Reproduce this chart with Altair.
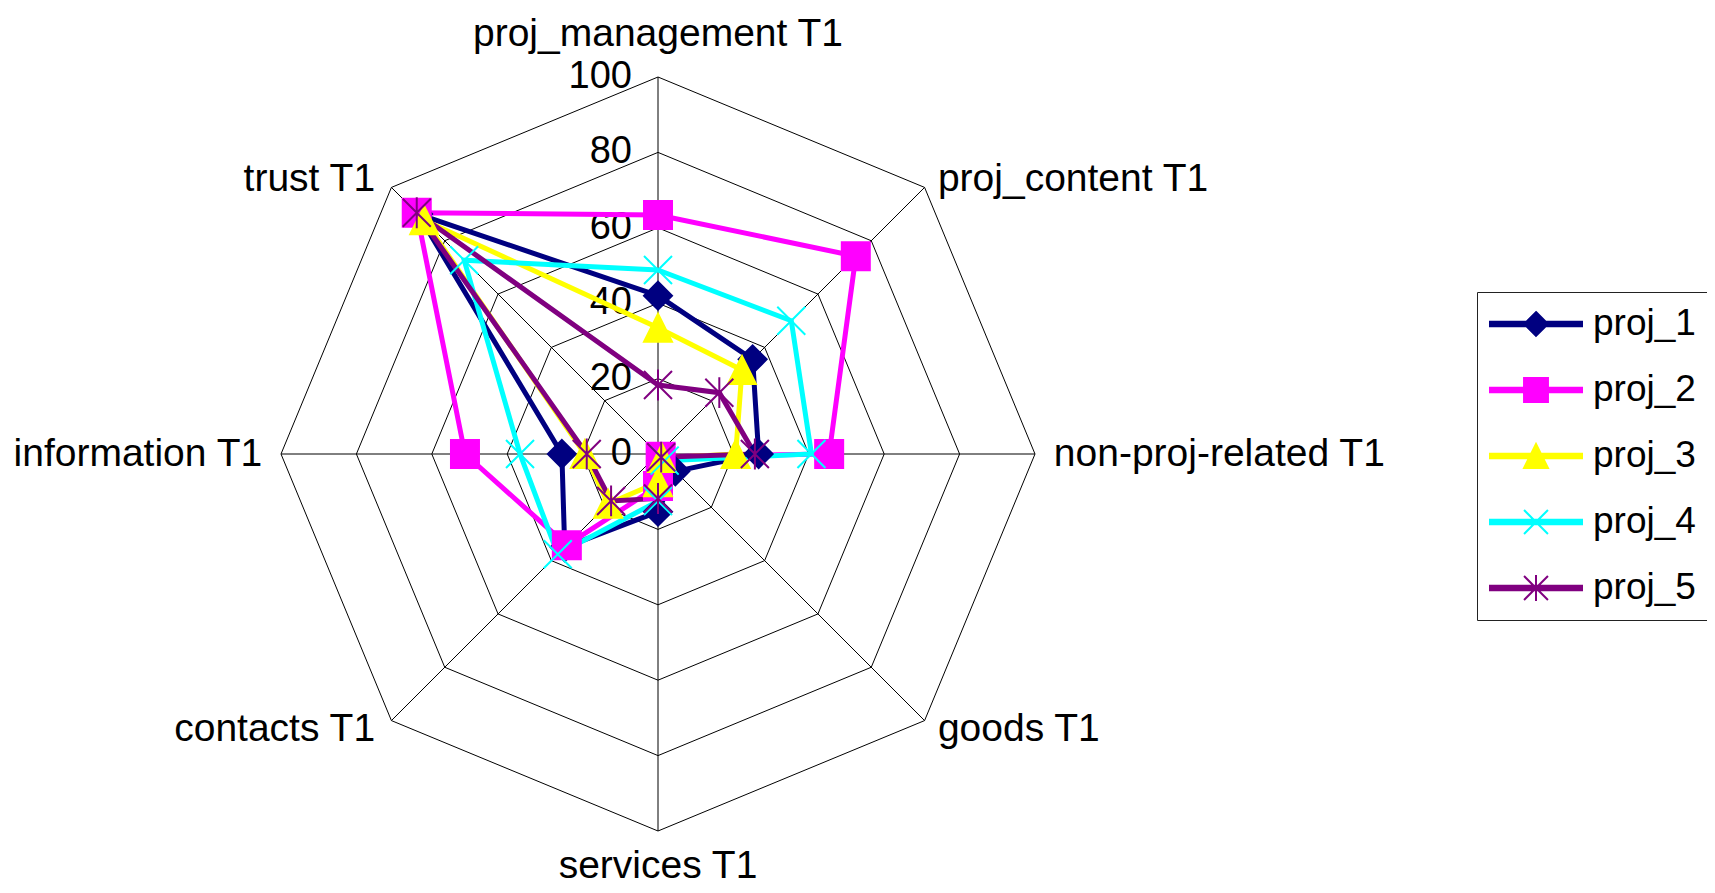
import altair as alt
import pandas as pd

# ---------------- data ----------------
axes = ["proj_management T1", "proj_content T1", "non-proj-related T1", "goods T1",
        "services T1", "contacts T1", "information T1", "trust T1"]
series_names = ["proj_1", "proj_2", "proj_3", "proj_4", "proj_5"]
proj_1 = [42.0, 35.5, 26.7, 6.5, 15.3, 35.0, 25.5, 90.0]
proj_2 = [63.4, 74.2, 45.4, 1.0, 8.5, 34.2, 51.2, 90.5]
proj_3 = [33.5, 31.5, 20.6, 1.5, 7.5, 18.7, 19.4, 87.7]
proj_4 = [48.8, 50.0, 40.7, 2.5, 12.5, 37.6, 36.6, 72.7]
proj_5 = [18.3, 23.0, 25.7, 1.2, 11.8, 17.6, 18.9, 90.5]
ring_levels = [20, 40, 60, 80, 100]
tick_values = [0, 20, 40, 60, 80, 100]

# ---------------- styles ----------------
colors = ["#000080", "#FF00FF", "#FFFF00", "#00FFFF", "#800080"]
marker_paths = [
    "M0,-1L1,0L0,1L-1,0Z",
    "M-1,-1H1V1H-1Z",
    "M0,-1L1,1L-1,1Z",
    "M-1,-1L1,1M1,-1L-1,1",
    "M-1,-1L1,1M1,-1L-1,1M0,-1.1L0,1.1",
]
bar = "M-1,-0.05H1V0.05H-1Z"
m = 0.26
legend_paths = [
    bar + f"M0,-{m}L{m},0L0,{m}L-{m},0Z",
    bar + f"M-{m},-{m}H{m}V{m}H-{m}Z",
    bar + f"M0,-{m}L{m},{m}L-{m},{m}Z",
    bar + f"M-{m},-{m}L{m},{m}M{m},-{m}L-{m},{m}",
    bar + f"M-{m},-{m}L{m},{m}M{m},-{m}L-{m},{m}M0,-{m + 0.02}L0,{m + 0.02}",
]
FONT = "Liberation Sans"
FS = 38
FS_CAT = 39

# ---------------- tables ----------------
rows = []
for s, vals in zip(series_names, [proj_1, proj_2, proj_3, proj_4, proj_5]):
    for i, v in enumerate(vals + [vals[0]]):
        rows.append({"series": s, "idx": i, "value": v})
df = pd.DataFrame(rows)

ring_rows = []
for r in ring_levels:
    for i in range(len(axes) + 1):
        ring_rows.append({"ring": r, "idx": i, "value": r})
rings = pd.DataFrame(ring_rows)

spoke_rows = []
for i in range(len(axes)):
    spoke_rows.append({"spoke": i, "idx": i, "value": 0, "o": 0})
    spoke_rows.append({"spoke": i, "idx": i, "value": 100, "o": 1})
spokes = pd.DataFrame(spoke_rows)

# label placement: (align, baseline, radius, dx, dy) per axis index
placement = {
    0: ("center", "alphabetic", 108.2, 0, 0),
    1: ("left", "middle", 105, 0, 5),
    2: ("left", "middle", 105, 0, 0),
    3: ("left", "middle", 105, 0, -5),
    4: ("center", "alphabetic", 112.5, 0, 0),
    5: ("right", "middle", 105, -3, -5),
    6: ("right", "middle", 105, 0, 0),
    7: ("right", "middle", 105, -3, 5),
}
lab_rows = []
for i, a in enumerate(axes):
    al, bl, rr, dx, dy = placement[i]
    lab_rows.append({"label": a, "idx": i, "value": rr, "grp": f"{al}|{bl}|{dx}|{dy}"})
labels = pd.DataFrame(lab_rows)

ticks = pd.DataFrame({"value": tick_values, "txt": [str(t) for t in tick_values]})

# ---------------- encodings ----------------
xs = alt.Scale(domain=[-100, 100], nice=False, zero=False)
ys = alt.Scale(domain=[-100, 100], nice=False, zero=False)
X = alt.X("x:Q", scale=xs, axis=None)
Y = alt.Y("y:Q", scale=ys, axis=None)
calc = dict(x="datum.value * sin(datum.idx * PI / 4)",
            y="datum.value * cos(datum.idx * PI / 4)")
cscale = alt.Scale(domain=series_names, range=colors)

grid_rings = alt.Chart(rings).transform_calculate(**calc).mark_line(
    color="black", strokeWidth=1).encode(
    x=X, y=Y, detail="ring:N", order=alt.Order("idx:Q"))

grid_spokes = alt.Chart(spokes).transform_calculate(**calc).mark_line(
    color="black", strokeWidth=1).encode(
    x=X, y=Y, detail="spoke:N", order=alt.Order("o:Q"))

tick_text = alt.Chart(ticks).transform_calculate(x="0", y="datum.value").mark_text(
    align="right", baseline="middle", dx=-26, font=FONT, fontSize=FS, color="black").encode(
    x=X, y=Y, text="txt:N")

label_layers = []
for g in sorted(set(labels["grp"])):
    al, bl, dx, dy = g.split("|")
    label_layers.append(
        alt.Chart(labels).transform_filter(f"datum.grp == '{g}'").transform_calculate(**calc)
        .mark_text(align=al, baseline=bl, dx=float(dx), dy=float(dy),
                   font=FONT, fontSize=FS_CAT, color="black")
        .encode(x=X, y=Y, text="label:N"))

series_lines = alt.Chart(df).transform_calculate(**calc).mark_line(
    strokeWidth=5, opacity=1).encode(
    x=X, y=Y,
    color=alt.Color("series:N", scale=cscale, legend=None),
    detail="series:N",
    order=alt.Order("idx:Q"))

series_points = alt.Chart(df).transform_filter("datum.idx < 8").transform_calculate(**calc).mark_point(
    filled=True, size=784, strokeWidth=2, opacity=1).encode(
    x=X, y=Y,
    color=alt.Color("series:N", scale=cscale, legend=None),
    stroke=alt.Stroke("series:N", scale=cscale, legend=None),
    shape=alt.Shape("series:N", scale=alt.Scale(domain=series_names, range=marker_paths), legend=None))

leg = alt.Legend(title=None, orient="none", legendX=1196, legendY=215,
                 symbolSize=8464, symbolStrokeWidth=2, labelFont=FONT, labelFontSize=37,
                 labelColor="black", labelOffset=10, padding=12, rowPadding=26,
                 clipHeight=40, strokeColor="#222222", fillColor="white", labelLimit=300)

legend_layer = alt.Chart(df).transform_filter("false").transform_calculate(**calc).mark_point(
    filled=True, strokeWidth=2, opacity=1).encode(
    x=X, y=Y,
    color=alt.Color("series:N", scale=cscale, legend=leg),
    stroke=alt.Stroke("series:N", scale=cscale, legend=leg),
    shape=alt.Shape("series:N", scale=alt.Scale(domain=series_names, range=legend_paths), legend=leg))

chart = alt.layer(
    grid_rings, grid_spokes, tick_text, *label_layers, series_lines, series_points, legend_layer
).resolve_scale(
    color="independent", stroke="independent", shape="independent"
).properties(
    width=754, height=754,
    padding={"left": 273, "top": 69, "right": 672, "bottom": 54},
    autosize=alt.AutoSizeParams(type="none"),
    background="white",
).configure_view(stroke=None)

chart.save("out.html", embed_options={"renderer": "svg", "actions": False})
